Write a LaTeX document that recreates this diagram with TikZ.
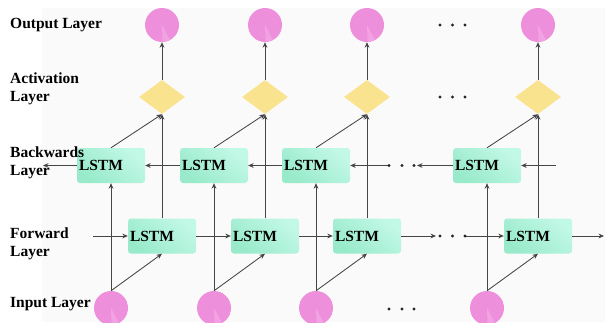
\documentclass[tikz,border=0pt]{standalone}
\usepackage{fontspec}
\setmainfont{Liberation Serif}
\usetikzlibrary{shapes.geometric,arrows.meta,calc}
\definecolor{mintlight}{HTML}{C2F8E6}
\definecolor{mintdark}{HTML}{98EACB}
\definecolor{pinkfill}{HTML}{EE8FDB}
\definecolor{pinklight}{HTML}{F2A2E3}
\definecolor{yellowfill}{HTML}{FAE38E}
\definecolor{wire}{HTML}{454545}
\definecolor{canvas}{HTML}{FAFAFA}
\begin{document}
\begin{tikzpicture}[x=1pt,y=-1pt,
  txt/.style={font=\bfseries\fontsize{15.5}{18}\selectfont},
  lstm/.style={txt, rectangle, rounded corners=3pt, inner sep=2pt,
    text width=64pt, minimum height=35pt, align=left,
    top color=mintlight, bottom color=mintdark, shading angle=-40},
  unit/.style={circle, fill=pinkfill, minimum size=34pt, inner sep=0pt,
    path picture={\fill[pinklight] (path picture bounding box.center)
      -- ++(-88:18pt) arc[start angle=-88, end angle=-62, radius=18pt] -- cycle;}},
  act/.style={diamond, fill=yellowfill, minimum width=46pt, minimum height=34pt, inner sep=0pt},
  lab/.style={txt, anchor=west, align=left, inner sep=0pt},
  arr/.style={draw=wire, line width=0.85pt, -{Stealth[length=5.5pt,width=4.8pt]}},
  dot/.style={circle, fill=black!85, minimum size=3.2pt, inner sep=0pt}
]
\useasboundingbox (0,0) rectangle (605,322);
\clip (0,0) rectangle (605,322);
\fill[canvas] (42,8) rectangle (605,322);

% one column per time step
\foreach \i/\x in {1/162,2/265,3/367,4/538} {
  \node[unit] (o\i) at (\x,25) {};
  \node[act] (a\i) at (\x,97) {};
  \node[lstm] (b\i) at (\x-51,165.5) {LSTM};
  \node[lstm] (f\i) at (\x,236) {LSTM};
  \node[unit] (in\i) at (\x-51,308) {};
}

% vertical data flow inside each column
\foreach \i in {1,...,4} {
  \draw[arr] (in\i.north) -- (b\i.south);
  \draw[arr] (in\i.north) -- (f\i.south);
  \draw[arr] (f\i.north) -- (a\i.south);
  \draw[arr] (b\i.north) -- (a\i.south);
  \draw[arr] (a\i.north) -- (o\i.south);
}

% forward chain
\coordinate (fin) at (93,236);
\coordinate (fgapL) at (436,236);
\coordinate (fgapR) at (465,236);
\coordinate (fout) at (604,236);
\draw[arr] (fin) -- (f1.west);
\draw[arr] (f1.east) -- (f2.west);
\draw[arr] (f2.east) -- (f3.west);
\draw[arr] (f3.east) -- (fgapL);
\draw[arr] (fgapR) -- (f4.west);
\draw[arr] (f4.east) -- (fout);
\node[dot] (fd1) at (440,236) {};
\node[dot] (fd2) at (452.5,236) {};
\node[dot] (fd3) at (465,236) {};

% backward chain
\coordinate (bout) at (43,165.5);
\coordinate (bgapR) at (417,165.5);
\coordinate (bgapL) at (389,165.5);
\coordinate (bin) at (556,165.5);
\draw[arr] (b1.west) -- (bout);
\draw[arr] (b2.west) -- (b1.east);
\draw[arr] (b3.west) -- (b2.east);
\draw[arr] (b4.west) -- (bgapR);
\draw[arr] (bgapL) -- (b3.east);
\draw[arr] (bin) -- (b4.east);
\node[dot] (bd1) at (389,165.5) {};
\node[dot] (bd2) at (402,165.5) {};
\node[dot] (bd3) at (414,165.5) {};

% ellipses for the omitted time steps
\foreach \y/\n in {25/o,97/a} {
  \node[dot] (\n d1) at (440,\y) {};
  \node[dot] (\n d2) at (452.5,\y) {};
  \node[dot] (\n d3) at (465,\y) {};
}
\node[dot] (id1) at (389,309) {};
\node[dot] (id2) at (402,309) {};
\node[dot] (id3) at (414,309) {};

% layer names
\node[lab] (lo) at (10,25) {Output Layer};
\node[lab] (la) at (10,89) {Activation\\Layer};
\node[lab] (lb) at (10,162.5) {Backwards\\Layer};
\node[lab] (lf) at (10,244) {Forward\\Layer};
\node[lab] (li) at (10,304) {Input Layer};
\end{tikzpicture}
\end{document}
